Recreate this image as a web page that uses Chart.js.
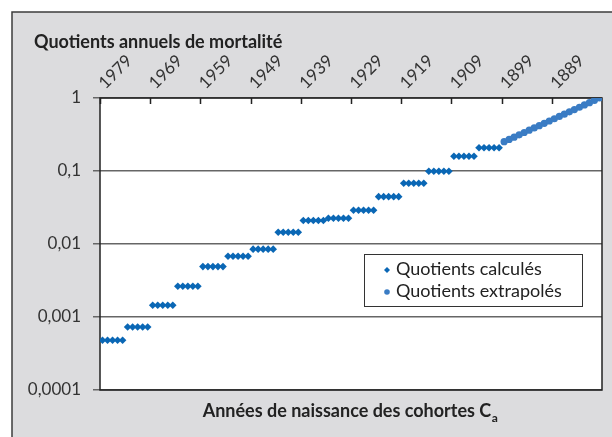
<!DOCTYPE html>
<html>
<head>
<meta charset="utf-8">
<script src="https://cdn.jsdelivr.net/npm/chart.js@4.4.0/dist/chart.umd.min.js"></script>
<style>
  html, body { margin: 0; padding: 0; background: #fff; }
  #wrap { width: 612px; height: 437px; }
</style>
</head>
<body>
<div id="wrap"><canvas id="chart" width="612" height="437"></canvas></div>
<script>
// cohorts, one point per birth year (most recent first)
const calcFirstYear = 1979;
const extraFirstYear = 1899;

// computed quotients, one step per 5-year age group
const calcValues = [
  0.00048, 0.00048, 0.00048, 0.00048, 0.00048,
  0.00073, 0.00073, 0.00073, 0.00073, 0.00073,
  0.00145, 0.00145, 0.00145, 0.00145, 0.00145,
  0.00264, 0.00264, 0.00264, 0.00264, 0.00264,
  0.0049, 0.0049, 0.0049, 0.0049, 0.0049,
  0.0068, 0.0068, 0.0068, 0.0068, 0.0068,
  0.0085, 0.0085, 0.0085, 0.0085, 0.0085,
  0.0145, 0.0145, 0.0145, 0.0145, 0.0145,
  0.021, 0.021, 0.021, 0.021, 0.021,
  0.0225, 0.0225, 0.0225, 0.0225, 0.0225,
  0.029, 0.029, 0.029, 0.029, 0.029,
  0.0445, 0.0445, 0.0445, 0.0445, 0.0445,
  0.068, 0.068, 0.068, 0.068, 0.068,
  0.099, 0.099, 0.099, 0.099, 0.099,
  0.159, 0.159, 0.159, 0.159, 0.159,
  0.208, 0.208, 0.208, 0.208, 0.208
];

// extrapolated quotients, 1899 -> 1880
const extraValues = [
  0.252, 0.271, 0.291, 0.313, 0.337, 0.362, 0.389, 0.418, 0.450, 0.484,
  0.520, 0.559, 0.601, 0.646, 0.695, 0.747, 0.803, 0.864, 0.929, 1.0
];

const xTickYears = [1979, 1969, 1959, 1949, 1939, 1929, 1919, 1909, 1899, 1889];
const yTickValues = [0.0001, 0.001, 0.01, 0.1, 1];
const yTickLabels = ['0,0001', '0,001', '0,01', '0,1', '1'];

const FONT = 'Lato, "Open Sans", sans-serif';

const calcPoints = calcValues.map((v, i) => ({ x: calcFirstYear - i, y: v }));
const extraPoints = extraValues.map((v, i) => ({ x: extraFirstYear - i, y: v }));

// frame, title, axis title and legend
const decorations = {
  id: 'decorations',
  beforeDraw(chart) {
    const ctx = chart.ctx;
    const a = chart.chartArea;
    ctx.save();
    ctx.fillStyle = '#fff';
    ctx.fillRect(0, 0, chart.width, chart.height);
    ctx.fillStyle = '#dcdcde';
    ctx.fillRect(12, 12, chart.width - 12, chart.height - 12);
    ctx.strokeStyle = '#3c3c3c';
    ctx.lineWidth = 1.5;
    ctx.beginPath();
    ctx.moveTo(12, chart.height);
    ctx.lineTo(12, 12);
    ctx.lineTo(chart.width, 12);
    ctx.stroke();
    ctx.fillStyle = '#fff';
    ctx.fillRect(a.left, a.top, a.right - a.left, a.bottom - a.top);
    ctx.restore();
  },
  beforeDatasetsDraw(chart) {
    const ctx = chart.ctx;
    const a = chart.chartArea;
    const xs = chart.scales.x;
    ctx.save();
    ctx.strokeStyle = '#222';
    ctx.lineWidth = 1.5;
    ctx.strokeRect(a.left, a.top, a.right - a.left, a.bottom - a.top);
    ctx.beginPath();
    xTickYears.forEach(y => {
      const px = Math.round(xs.getPixelForValue(y + 0.5)) + 0.5;
      ctx.moveTo(px, a.top);
      ctx.lineTo(px, a.top + 6);
    });
    ctx.stroke();
    ctx.restore();
  },
  afterDraw(chart) {
    const ctx = chart.ctx;
    ctx.save();
    ctx.fillStyle = '#222';
    ctx.textBaseline = 'middle';

    ctx.font = 'bold 18px ' + FONT;
    ctx.textAlign = 'left';
    ctx.fillText('Quotients annuels de mortalité', 34, 42);

    // x axis title with subscript
    const main = 'Années de naissance des cohortes C';
    ctx.font = 'bold 18px ' + FONT;
    const w1 = ctx.measureText(main).width;
    ctx.font = 'bold 12px ' + FONT;
    const w2 = ctx.measureText('a').width;
    const x0 = 350 - (w1 + w2) / 2;
    ctx.font = 'bold 18px ' + FONT;
    ctx.fillText(main, x0, 411);
    ctx.font = 'bold 12px ' + FONT;
    ctx.fillText('a', x0 + w1 + 0.5, 418);

    // legend
    const lx = 364, ly = 254, lw = 218, lh = 52;
    ctx.fillStyle = '#fff';
    ctx.fillRect(lx, ly, lw, lh);
    ctx.strokeStyle = '#333';
    ctx.lineWidth = 1;
    ctx.strokeRect(lx + 0.5, ly + 0.5, lw, lh);

    ctx.fillStyle = '#0a67b5';
    ctx.beginPath();
    ctx.moveTo(387, 267);
    ctx.lineTo(390, 270);
    ctx.lineTo(387, 273);
    ctx.lineTo(384, 270);
    ctx.closePath();
    ctx.fill();
    ctx.fillStyle = '#3a7cc4';
    ctx.beginPath();
    ctx.arc(387, 292, 2.8, 0, Math.PI * 2);
    ctx.fill();

    ctx.fillStyle = '#222';
    ctx.font = '18px ' + FONT;
    ctx.fillText('Quotients calculés', 396, 269);
    ctx.fillText('Quotients extrapolés', 396, 291);
    ctx.restore();
  }
};

new Chart(document.getElementById('chart'), {
  type: 'scatter',
  data: {
    datasets: [
      {
        label: 'Quotients calculés',
        data: calcPoints,
        pointStyle: 'rectRot',
        pointRadius: 3.8,
        backgroundColor: '#0a67b5',
        borderColor: '#0a67b5',
        borderWidth: 0,
        showLine: false
      },
      {
        label: 'Quotients extrapolés',
        data: extraPoints,
        pointStyle: 'circle',
        pointRadius: 3.6,
        backgroundColor: '#3a7cc4',
        borderColor: '#3a7cc4',
        borderWidth: 0,
        showLine: false
      }
    ]
  },
  options: {
    responsive: false,
    animation: false,
    layout: { padding: { left: 0, top: 0, right: 10, bottom: 47 } },
    plugins: {
      legend: { display: false },
      tooltip: { enabled: false }
    },
    scales: {
      x: {
        type: 'linear',
        position: 'top',
        reverse: true,
        min: 1879.5,
        max: 1979.5,
        grid: { display: false, drawTicks: false },
        border: { display: false },
        afterBuildTicks: (scale) => {
          scale.ticks = xTickYears.map(y => ({ value: y + 0.5 }));
        },
        afterFit: (scale) => { scale.height = 98; },
        ticks: {
          autoSkip: false,
          minRotation: 45,
          maxRotation: 45,
          padding: 5,
          labelOffset: 16,
          color: '#333',
          font: { family: FONT, size: 17 },
          callback: (v) => String(Math.round(v - 0.5))
        }
      },
      y: {
        type: 'logarithmic',
        min: 0.0001,
        max: 1,
        grid: { color: '#666', lineWidth: 1.5, tickLength: 7 },
        border: { display: false },
        afterBuildTicks: (scale) => {
          scale.ticks = yTickValues.map(v => ({ value: v }));
        },
        afterFit: (scale) => { scale.width = 100; },
        ticks: {
          padding: 12,
          color: '#333',
          font: { family: FONT, size: 17 },
          callback: (v) => yTickLabels[yTickValues.indexOf(v)]
        }
      }
    }
  },
  plugins: [decorations]
});
</script>
</body>
</html>
